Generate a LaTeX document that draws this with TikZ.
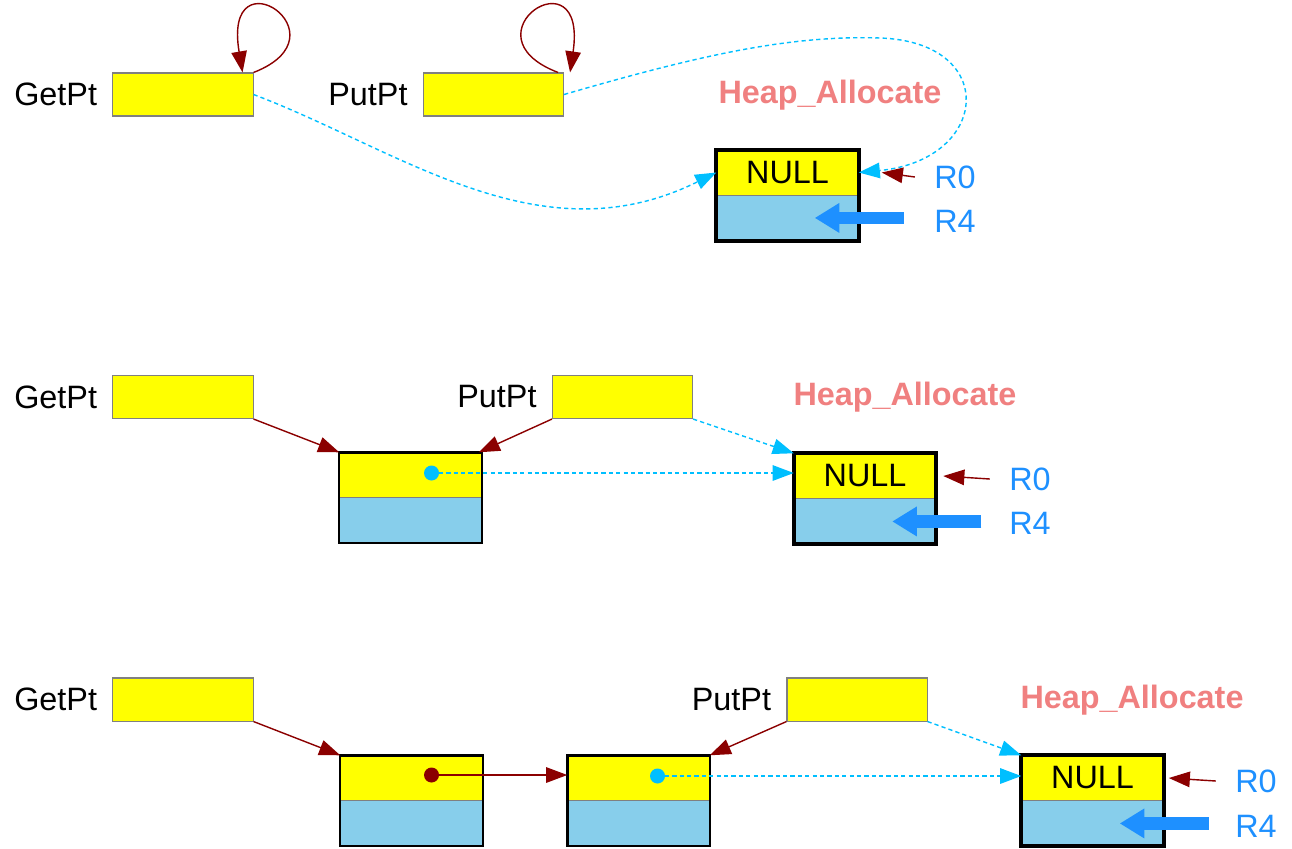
\documentclass[tikz,border=0pt]{standalone}
\usepackage{fontspec}
\setmainfont{Liberation Sans}
\usetikzlibrary{arrows.meta,positioning}

\definecolor{ptrred}{HTML}{8B0000}
\definecolor{linkcyan}{HTML}{00BFFF}
\definecolor{regblue}{HTML}{1E90FF}
\definecolor{cellblue}{HTML}{87CEEB}
\definecolor{heapred}{HTML}{F08080}
\definecolor{ptryellow}{HTML}{FFFF00}

\tikzset{
  ptrbox/.style={draw=gray, fill=ptryellow, line width=0.3pt, minimum width=1.40cm, minimum height=0.43cm, inner sep=0pt},
  topcell/.style={fill=ptryellow, minimum width=1.41cm, minimum height=0.44cm, inner sep=0pt, font=\fontsize{9.2}{11}\selectfont},
  botcell/.style={fill=cellblue, minimum width=1.41cm, minimum height=0.44cm, inner sep=0pt},
  txt/.style={font=\fontsize{9.2}{11}\selectfont},
  heaplbl/.style={font=\fontsize{9.2}{11}\selectfont\bfseries, text=heapred},
  reglbl/.style={font=\fontsize{9.2}{11}\selectfont, text=regblue},
  ptr/.style={ptrred, line width=0.4pt, -{Triangle[length=6pt,width=4.4pt]}},
  link/.style={linkcyan, line width=0.4pt, dash pattern=on 1.2pt off 0.9pt, -{Triangle[length=6pt,width=4.4pt]}},
  regarrow/.style={regblue, line width=3.6pt, -{Triangle[length=7pt,width=8pt]}},
  frame/.style={line width=0.7pt},
  nullframe/.style={line width=1.1pt},
  divider/.style={gray, line width=0.3pt},
  dot/.style={circle, inner sep=0pt, minimum size=0.15cm},
}

\begin{document}
\begin{tikzpicture}[x=0.01cm, y=-0.01cm]
  \useasboundingbox (0,0) rectangle (1292,848);

  % first state: empty list
  \node[ptrbox] (gp1) at (183,94.5) {};
  \node[txt, left=0.03cm of gp1] (gpl1) {GetPt};
  \node[ptrbox] (pp1) at (493.5,94.5) {};
  \node[txt, left=0.03cm of pp1] (ppl1) {PutPt};
  \node[topcell] (n1) at (787.5,172.5) {NULL};
  \node[botcell, below=0pt of n1] (n1b) {};
  \draw[divider] (n1.south west) -- (n1.south east);
  \draw[nullframe] (n1.north west) rectangle (n1b.south east);
  \node[heaplbl] (heap1) at (830,95) {Heap\_Allocate};
  \node[reglbl] (r01) at (955,177) {R0};
  \node[reglbl] (r41) at (955,221) {R4};
  \draw[ptr] (gp1.north east) .. controls (350,35) and (222,-50) .. ([xshift=-0.11cm]gp1.north east);
  \draw[ptr] ([xshift=-0.06cm]pp1.north east) .. controls (460,35) and (588,-50) .. ([xshift=0.06cm]pp1.north east);
  \draw[link] (gp1.east) .. controls (400,150) and (540,260) .. (n1.west);
  \draw[link] (pp1.east) .. controls (700,55) and (790,35) .. (880,38) .. controls (1000,42) and (990,160) .. (n1.east);
  \draw[ptr] ([xshift=-0.07cm]r01.west) -- ([xshift=0.23cm]n1.east);
  \draw[regarrow] ([xshift=0.45cm]n1b.east) -- ([xshift=-0.44cm]n1b.east);

  % second state: one node
  \node[ptrbox] (gp2) at (183,397) {};
  \node[txt, left=0.03cm of gp2] (gpl2) {GetPt};
  \node[ptrbox] (pp2) at (622.5,397) {};
  \node[txt, left=0.03cm of pp2] (ppl2) {PutPt};
  \node[topcell] (a2) at (410.5,475) {};
  \node[botcell, below=0pt of a2] (a2b) {};
  \draw[divider] (a2.south west) -- (a2.south east);
  \draw[frame] (a2.north west) rectangle (a2b.south east);
  \node[dot, fill=linkcyan] (d2) at ([xshift=0.21cm,yshift=0.02cm]a2.center) {};
  \node[topcell] (n2) at (865,476) {NULL};
  \node[botcell, below=0pt of n2] (n2b) {};
  \draw[divider] (n2.south west) -- (n2.south east);
  \draw[nullframe] (n2.north west) rectangle (n2b.south east);
  \node[heaplbl] (heap2) at (905,397) {Heap\_Allocate};
  \node[reglbl] (r02) at (1030,479) {R0};
  \node[reglbl] (r42) at (1030,523) {R4};
  \draw[ptr] (gp2.south east) -- (a2.north west);
  \draw[ptr] (pp2.south west) -- ([xshift=-0.03cm]a2.north east);
  \draw[link] (pp2.south east) -- (n2.north west);
  \draw[link] (d2.center) -- (d2.center -| n2.west);
  \draw[ptr] ([xshift=-0.07cm]r02.west) -- ([xshift=0.07cm]n2.east);
  \draw[regarrow] ([xshift=0.45cm]n2b.east) -- ([xshift=-0.44cm]n2b.east);

  % third state: two nodes
  \node[ptrbox] (gp3) at (183,699.5) {};
  \node[txt, left=0.03cm of gp3] (gpl3) {GetPt};
  \node[ptrbox] (pp3) at (857,699.5) {};
  \node[txt, left=0.03cm of pp3] (ppl3) {PutPt};
  \node[topcell] (a3) at (411.5,778) {};
  \node[botcell, below=0pt of a3] (a3b) {};
  \draw[divider] (a3.south west) -- (a3.south east);
  \draw[frame] (a3.north west) rectangle (a3b.south east);
  \node[dot, fill=ptrred] (d3a) at ([xshift=0.2cm,yshift=0.03cm]a3.center) {};
  \node[topcell] (b3) at (638.5,778) {};
  \node[botcell, below=0pt of b3] (b3b) {};
  \draw[divider] (b3.south west) -- (b3.south east);
  \draw[frame] (b3.north west) rectangle (b3b.south east);
  \node[dot, fill=linkcyan] (d3b) at ([xshift=0.19cm,yshift=0.02cm]b3.center) {};
  \node[topcell] (n3) at (1092.5,778) {NULL};
  \node[botcell, below=0pt of n3] (n3b) {};
  \draw[divider] (n3.south west) -- (n3.south east);
  \draw[nullframe] (n3.north west) rectangle (n3b.south east);
  \node[heaplbl] (heap3) at (1132,700) {Heap\_Allocate};
  \node[reglbl] (r03) at (1256,781) {R0};
  \node[reglbl] (r43) at (1256,826) {R4};
  \draw[ptr] (gp3.south east) -- (a3.north west);
  \draw[ptr] (pp3.south west) -- (b3.north east);
  \draw[link] (pp3.south east) -- (n3.north west);
  \draw[ptr] (d3a.center) -- (d3a.center -| b3.west);
  \draw[link] (d3b.center) -- (d3b.center -| n3.west);
  \draw[ptr] ([xshift=-0.07cm]r03.west) -- ([xshift=0.05cm]n3.east);
  \draw[regarrow] ([xshift=0.45cm]n3b.east) -- ([xshift=-0.44cm]n3b.east);
\end{tikzpicture}
\end{document}
